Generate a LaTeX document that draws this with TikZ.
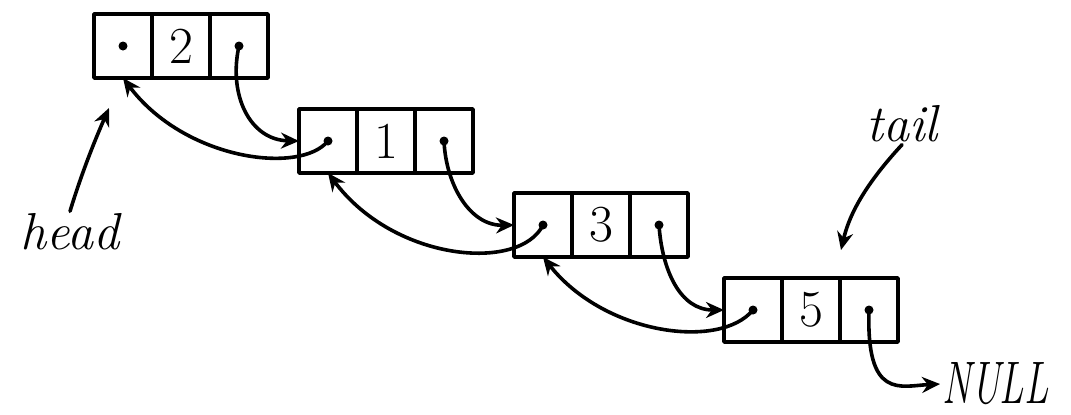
\documentclass[tikz,border=0pt]{standalone}
\usepackage{fontspec}
\usepackage{graphicx}
\usetikzlibrary{arrows.meta,positioning,calc}
\begin{document}
\begin{tikzpicture}[x=0.5pt,y=-0.5pt,
  ink/.style={line width=1.8pt,line cap=round,line join=round},
  cell/.style={ink,draw,rectangle,inner sep=0pt,outer sep=0pt,
               minimum width=29pt,minimum height=32pt,
               font=\fontsize{26}{26}\selectfont},
  link/.style={ink,-{Stealth[length=9pt,width=8pt]}},
  ptr/.style={circle,fill,inner sep=0pt,minimum size=4.5pt},
  label/.style={font=\fontsize{26}{26}\selectfont\itshape,inner sep=1pt}]
\useasboundingbox (0,0) rectangle (1071,414);

% list nodes: prev | value | next
\node[cell] (b2) at (181,46) {2};
\node[cell,left=0pt of b2] (a2) {};
\node[cell,right=0pt of b2] (c2) {};

\node[cell] (b1) at (386,141) {1};
\node[cell,left=0pt of b1] (a1) {};
\node[cell,right=0pt of b1] (c1) {};

\node[cell] (b3) at (601,225) {3};
\node[cell,left=0pt of b3] (a3) {};
\node[cell,right=0pt of b3] (c3) {};

\node[cell] (b5) at (811,310) {5};
\node[cell,left=0pt of b5] (a5) {};
\node[cell,right=0pt of b5] (c5) {};

% pointer dots
\foreach \p in {a2,c2,a1,c1,a3,c3,a5,c5} \node[ptr] at (\p.center) {};

% labels
\node[label] (head) at (70,232) {head};
\node[label] (tail) at (902,124) {tail};
\node[label,anchor=west,font=\fontsize{30}{30}\selectfont\itshape] (null) at (940,384)
  {\scalebox{0.66}[1]{NULL}};

% tips of the head and tail pointers
\coordinate (headtip) at ($(a2.south)+(-14,30)$);
\coordinate (tailtip) at ($(b5.north)+(30,-28)$);

% next links
\draw[link] (c2.center) .. controls (228,95) and (250,140) .. (a1.west);
\draw[link] (c1.center) .. controls (446,185) and (470,226) .. (a3.west);
\draw[link] (c3.center) .. controls (662,270) and (680,310) .. (a5.west);
\draw[link] (c5.center) .. controls (866,400) and (900,386) .. (null.west);

% prev links
\draw[link] (a1.center) .. controls (300,175) and (185,160) .. (a2.south);
\draw[link] (a3.center) .. controls (520,272) and (395,262) .. (a1.south);
\draw[link] (a5.center) .. controls (720,350) and (605,335) .. (a3.south);

% head and tail pointers
\draw[link] (head.north) .. controls (82,172) and (95,140) .. (headtip);
\draw[link] (tail.south) .. controls (860,190) and (848,220) .. (tailtip);
\end{tikzpicture}
\end{document}
